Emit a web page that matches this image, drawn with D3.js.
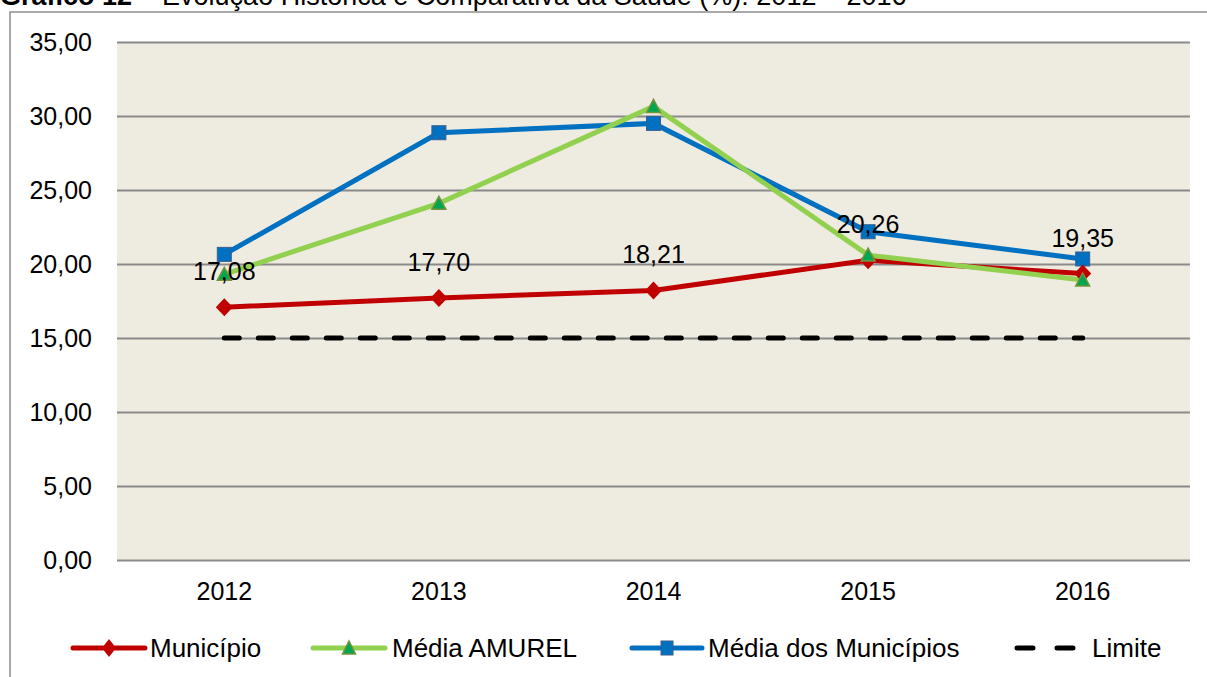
<!DOCTYPE html>
<html><head><meta charset="utf-8">
<script src="https://cdn.jsdelivr.net/npm/d3@7"></script>
<style>
html,body{margin:0;padding:0;background:#fff;overflow:hidden}
text{font-family:Arial,"Liberation Sans",sans-serif;fill:#000}
</style></head>
<body><svg id="c" width="1207" height="677"></svg>
<script>
const years = ["2012","2013","2014","2015","2016"];
const municipio = [17.08, 17.70, 18.21, 20.26, 19.35];
const mediaAmurel = [19.3, 24.1, 30.65, 20.6, 18.92];
const mediaMunicipios = [20.65, 28.87, 29.5, 22.18, 20.34];
const limite = [15, 15, 15, 15, 15];
const yTicks = [0, 5, 10, 15, 20, 25, 30, 35];
const seriesNames = ["Município", "Média AMUREL", "Média dos Municípios", "Limite"];

const svg = d3.select("#c");
const fmt = v => d3.format(".2f")(v).replace(".", ",");

// title (partially cut at top, as in the reference)
const t = svg.append("text").attr("x", 0).attr("y", 5).style("font-size", "27px");
t.append("tspan").style("font-weight", "bold").text("Gráfico 12");
t.append("tspan").text(" – Evolução Histórica e Comparativa da Saúde (%): 2012 – 2016");

// outer frame
svg.append("rect").attr("x", 10).attr("y", 12).attr("width", 1220).attr("height", 700)
  .attr("fill", "none").attr("stroke", "#8c8c8c").attr("stroke-width", 1.5);

const L = 117, R = 1190, T = 42, B = 560;
const x = d3.scaleBand().domain(years).range([L, R]);
const cx = d => x(d) + x.bandwidth() / 2;
const y = d3.scaleLinear().domain([0, 35]).range([B, T]);

svg.append("rect").attr("x", L).attr("y", T).attr("width", R - L).attr("height", B - T).attr("fill", "#eeebe0");

// grid
const yAxis = d3.axisLeft(y).tickValues(yTicks).tickSize(-(R - L)).tickPadding(25).tickFormat(fmt);
const gy = svg.append("g").attr("transform", `translate(${L},0)`).call(yAxis);
gy.select(".domain").remove();
gy.selectAll(".tick line").attr("stroke", "#8a8a8a").attr("stroke-width", 2);
gy.selectAll(".tick text").style("font-size", "25px").style("font-family", "Arial, 'Liberation Sans', sans-serif").attr("fill", "#000");

const xAxis = d3.axisBottom(x).tickSize(0).tickPadding(22);
const gx = svg.append("g").attr("transform", `translate(0,${B})`).call(xAxis);
gx.select(".domain").remove();
gx.selectAll(".tick text").style("font-size", "25px").style("font-family", "Arial, 'Liberation Sans', sans-serif").attr("fill", "#000");

const line = d3.line().x((d, i) => cx(years[i])).y(d => y(d));

// Limite
svg.append("path").datum(limite).attr("d", line).attr("fill", "none").attr("stroke", "#000")
  .attr("stroke-width", 5).attr("stroke-dasharray", "15,19").attr("stroke-linecap", "round");

const diamond = (s) => `M0,${-s.h}L${s.w},0L0,${s.h}L${-s.w},0Z`;
const tri = (w, h) => `M0,${-h/2 - 1}L${w/2},${h/2}L${-w/2},${h/2}Z`;

// blue
svg.append("path").datum(mediaMunicipios).attr("d", line).attr("fill", "none").attr("stroke", "#0070c0").attr("stroke-width", 5);
// red
svg.append("path").datum(municipio).attr("d", line).attr("fill", "none").attr("stroke", "#c00000").attr("stroke-width", 5);
// green
svg.append("path").datum(mediaAmurel).attr("d", line).attr("fill", "none").attr("stroke", "#92d050").attr("stroke-width", 5);

svg.selectAll(".mb").data(mediaMunicipios).enter().append("rect")
  .attr("x", (d, i) => cx(years[i]) - 7).attr("y", d => y(d) - 7).attr("width", 14).attr("height", 14)
  .attr("fill", "#0070c0").attr("stroke", "#3a5f8f").attr("stroke-width", 1);
svg.selectAll(".mr").data(municipio).enter().append("path")
  .attr("transform", (d, i) => `translate(${cx(years[i])},${y(d)})`)
  .attr("d", diamond({w: 8.5, h: 9})).attr("fill", "#c00000");
svg.selectAll(".mg").data(mediaAmurel).enter().append("path")
  .attr("transform", (d, i) => `translate(${cx(years[i])},${y(d)})`)
  .attr("d", tri(14, 12)).attr("fill", "#00a650").attr("stroke", "#77933c").attr("stroke-width", 1.5);

// data labels
svg.selectAll(".lab").data(municipio).enter().append("text")
  .attr("x", (d, i) => cx(years[i])).attr("y", d => y(d) - 27)
  .attr("text-anchor", "middle").style("font-size", "25px").text(d => fmt(d));

// legend
const ly = 648;
const leg = [
  {x1: 73, x2: 145, tx: 150, color: "#c00000", kind: "diamond"},
  {x1: 313, x2: 385, tx: 392, color: "#92d050", kind: "tri"},
  {x1: 632, x2: 702, tx: 708, color: "#0070c0", kind: "square"},
  {x1: 1017, x2: 1075, tx: 1092, color: "#000", kind: "dash"}
];
leg.forEach((l, i) => {
  const g = svg.append("g");
  g.append("line").attr("x1", l.x1).attr("x2", l.x2).attr("y1", ly).attr("y2", ly)
    .attr("stroke", l.color).attr("stroke-width", 5).attr("stroke-linecap", "round")
    .attr("stroke-dasharray", l.kind === "dash" ? "16,24" : null);
  const mx = (l.x1 + l.x2) / 2;
  if (l.kind === "diamond") g.append("path").attr("transform", `translate(${mx},${ly})`).attr("d", diamond({w: 7, h: 9})).attr("fill", "#c00000");
  if (l.kind === "tri") g.append("path").attr("transform", `translate(${mx},${ly})`).attr("d", tri(13, 12)).attr("fill", "#00a650").attr("stroke", "#77933c").attr("stroke-width", 1.5);
  if (l.kind === "square") g.append("rect").attr("x", mx - 6).attr("y", ly - 7).attr("width", 12).attr("height", 14).attr("fill", "#0070c0").attr("stroke", "#3a5f8f");
  g.append("text").attr("x", l.tx).attr("y", 657).style("font-size", "26px").text(seriesNames[i]);
});
</script></body></html>
